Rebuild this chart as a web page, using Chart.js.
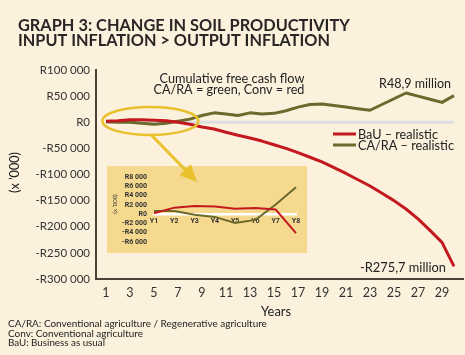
<!DOCTYPE html>
<html><head><meta charset="utf-8">
<script src="https://cdn.jsdelivr.net/npm/chart.js@4.4.1/dist/chart.umd.min.js"></script>
<style>
html,body{margin:0;padding:0;background:#fbf1dc;}
#wrap{position:relative;width:465px;height:355px;overflow:hidden;background:#fbf1dc;}
#main{position:absolute;left:0;top:0;}
#inset{position:absolute;left:107px;top:166px;background:#f5d98f;}
#over{position:absolute;left:0;top:0;pointer-events:none;}
</style></head><body>
<div id="wrap">
<canvas id="main" width="465" height="355"></canvas>
<canvas id="inset" width="200" height="87"></canvas>
<canvas id="over" width="465" height="355"></canvas>
</div>
<script>
// ---- data (R '000) ----
const years = [1,2,3,4,5,6,7,8,9,10,11,12,13,14,15,16,17,18,19,20,21,22,23,24,25,26,27,28,29,30];
const bauRealistic = [2000,3000,5000,5000,4000,3000,0,-4000,-9000,-13000,-19000,-25000,-30000,-36000,-43000,-50000,-58000,-67000,-76000,-87000,-98000,-110000,-122000,-136000,-150000,-166000,-185000,-207000,-230000,-275700];
const caraRealistic = [1000,0,0,-2000,-4000,-2000,2000,6000,13000,18000,16000,13000,18000,16000,17000,22000,29000,34000,35000,32000,29000,26000,23000,34000,45000,56000,50000,44000,38000,51000];
const zeroLine = [0,0,0,0,0,0,0,0,0,0,0,0,0,0,0,0,0,0,0,0,0,0,0,0,0,0,0,0,0,0];
const xTickLabels = [1,3,5,7,9,11,13,15,17,19,21,23,25,27,29];
const yTickValues = [100000,50000,0,-50000,-100000,-150000,-200000,-250000,-300000];

const insetYears = ['Y1','Y2','Y3','Y4','Y5','Y6','Y7','Y8'];
const insetBau = [200,1400,1750,1650,1150,1300,1000,-4100];
const insetCara = [650,650,-150,-600,-1900,-1250,2100,5800];
const insetYTicks = [8000,6000,4000,2000,0,-2000,-4000,-6000];

// ---- styles ----
const RED = '#c4181f', GREEN = '#6b692c', AXIS = '#4a4137', TXT = '#2b2626', GOLD = '#e8c12c';
const FAM = 'Lato, "Open Sans", sans-serif';

function fmtR(v){
  const a = Math.abs(v);
  const s = String(a).replace(/\B(?=(\d{3})+(?!\d))/g, ' ');
  return (v < 0 ? '-' : '') + 'R' + s;
}
function fitText(ctx, text, x, y, weight, size, targetW, align){
  ctx.font = weight + ' ' + size + 'px ' + FAM;
  const w = ctx.measureText(text).width;
  const s = size * targetW / w;
  ctx.font = weight + ' ' + s.toFixed(2) + 'px ' + FAM;
  ctx.textAlign = align;
  ctx.fillText(text, x, y);
}

const textPlugin = {
  id: 'texts',
  afterDraw(chart){
    const ctx = chart.ctx;
    ctx.save();
    ctx.fillStyle = TXT;
    ctx.textBaseline = 'alphabetic';
    // title
    fitText(ctx, 'GRAPH 3: CHANGE IN SOIL PRODUCTIVITY', 18, 31, 'bold', 17, 332, 'left');
    fitText(ctx, 'INPUT INFLATION > OUTPUT INFLATION', 18, 46, 'bold', 17, 312, 'left');
    // annotation
    ctx.fillStyle = '#222';
    fitText(ctx, 'Cumulative free cash flow', 232, 82.5, 'normal', 13, 145, 'center');
    fitText(ctx, 'CA/RA = green, Conv = red', 229, 93.5, 'normal', 13, 151, 'center');
    fitText(ctx, 'R48,9 million', 451, 88, 'normal', 13, 72, 'right');
    fitText(ctx, '-R275,7 million', 446, 271.5, 'normal', 13, 86, 'right');
    // legend
    ctx.lineWidth = 3;
    ctx.strokeStyle = RED;
    ctx.beginPath(); ctx.moveTo(333, 134); ctx.lineTo(356, 134); ctx.stroke();
    ctx.strokeStyle = GREEN;
    ctx.beginPath(); ctx.moveTo(333, 145); ctx.lineTo(356, 145); ctx.stroke();
    fitText(ctx, 'BaU \u2013 realistic', 358, 138.5, 'normal', 13, 80, 'left');
    fitText(ctx, 'CA/RA \u2013 realistic', 358, 150, 'normal', 13, 96, 'left');
    // axis titles
    fitText(ctx, 'Years', 276, 316, 'normal', 13, 30, 'center');
    ctx.save();
    ctx.translate(19, 172.5);
    ctx.rotate(-Math.PI / 2);
    fitText(ctx, '(x \u2019000)', 0, 0, 'normal', 12, 41, 'center');
    ctx.restore();
    // footnotes
    ctx.fillStyle = '#222';
    fitText(ctx, 'CA/RA: Conventional agriculture / Regenerative agriculture', 8, 327, 'normal', 10, 259, 'left');
    fitText(ctx, 'Conv: Conventional agriculture', 8, 336.5, 'normal', 10, 135, 'left');
    fitText(ctx, 'BaU: Business as usual', 8, 345.5, 'normal', 10, 97, 'left');
    ctx.restore();
  }
};

const mainChart = new Chart(document.getElementById('main'), {
  type: 'line',
  data: {
    datasets: [
      { label: 'BaU \u2013 realistic', data: years.map((y, i) => ({x: y, y: bauRealistic[i]})), borderColor: RED, borderWidth: 3, order: 0 },
      { label: 'CA/RA \u2013 realistic', data: years.map((y, i) => ({x: y, y: caraRealistic[i]})), borderColor: GREEN, borderWidth: 3, order: 1 },
      { label: 'zero', data: years.map((y, i) => ({x: y, y: zeroLine[i]})), borderColor: '#dcdfe4', borderWidth: 3, order: 2 }
    ]
  },
  options: {
    responsive: false, animation: false, devicePixelRatio: 1,
    layout: { padding: { left: 0, top: 70, right: 2, bottom: 36 } },
    plugins: { legend: { display: false }, tooltip: { enabled: false } },
    elements: { point: { radius: 0 }, line: { tension: 0, borderJoinStyle: 'round' } },
    scales: {
      x: {
        type: 'linear', min: 0.17, max: 30.75,
        afterBuildTicks: s => { s.ticks = xTickLabels.map(v => ({ value: v })); },
        afterFit: s => { s.height = 40; },
        grid: { display: false, drawTicks: false },
        border: { display: true, color: AXIS, width: 2 },
        ticks: { color: '#333', font: { family: FAM, size: 12.5 }, padding: 6, autoSkip: false, maxRotation: 0, callback: v => String(v) }
      },
      y: {
        type: 'linear', min: -300000, max: 100000,
        afterBuildTicks: s => { s.ticks = yTickValues.map(v => ({ value: v })); },
        afterFit: s => { s.width = 96; },
        grid: { display: false, drawTicks: false },
        border: { display: true, color: AXIS, width: 2 },
        ticks: { color: '#333', font: { family: FAM, size: 11.5 }, padding: 6, autoSkip: false, callback: v => fmtR(v) }
      }
    }
  },
  plugins: [textPlugin]
});

const insetText = {
  id: 'insetText',
  afterDraw(chart){
    const ctx = chart.ctx;
    ctx.save();
    ctx.fillStyle = '#333';
    ctx.translate(8, 38);
    ctx.rotate(-Math.PI / 2);
    ctx.font = '6px ' + FAM;
    ctx.textAlign = 'center';
    ctx.textBaseline = 'middle';
    ctx.fillText('(x \u2019000)', 0, 0);
    ctx.restore();
  }
};

const insetChart = new Chart(document.getElementById('inset'), {
  type: 'line',
  data: {
    labels: insetYears,
    datasets: [
      { data: insetBau, borderColor: RED, borderWidth: 2, order: 0 },
      { data: insetCara, borderColor: GREEN, borderWidth: 2, order: 1 }
    ]
  },
  options: {
    responsive: false, animation: false, devicePixelRatio: 1,
    layout: { padding: { left: 0, top: 7, right: 11, bottom: 6 } },
    plugins: { legend: { display: false }, tooltip: { enabled: false } },
    elements: { point: { radius: 0 }, line: { tension: 0 } },
    scales: {
      x: {
        type: 'category', offset: false, position: { y: 0 },
        afterFit: s => { s.height = 0; },
        grid: { display: false, drawTicks: false },
        border: { display: true, color: '#ffffff', width: 2.5 },
        ticks: { color: '#333', font: { family: 'Roboto', size: 7, weight: 'bold' }, padding: 3, autoSkip: false, maxRotation: 0 }
      },
      y: {
        type: 'linear', min: -6000, max: 8000,
        afterBuildTicks: s => { s.ticks = insetYTicks.map(v => ({ value: v })); },
        afterFit: s => { s.width = 47; },
        grid: { display: false, drawTicks: false },
        border: { display: false },
        ticks: { color: '#333', font: { family: 'Roboto', size: 7, weight: 'bold' }, padding: 7, autoSkip: false, callback: v => fmtR(v) }
      }
    }
  },
  plugins: [insetText]
});

// ---- overlay: highlight ellipse + arrow ----
(function(){
  const ctx = document.getElementById('over').getContext('2d');
  const xs = mainChart.scales.x, ys = mainChart.scales.y;
  const cx = xs.getPixelForValue(4.7), cy = ys.getPixelForValue(2500);
  ctx.strokeStyle = GOLD; ctx.fillStyle = GOLD;
  ctx.lineWidth = 2.5;
  ctx.beginPath(); ctx.ellipse(cx, cy, 48, 14, 0, 0, Math.PI * 2); ctx.stroke();
  const x0 = cx + 1, y0 = cy + 14, x1 = 197, y1 = 182;
  const ang = Math.atan2(y1 - y0, x1 - x0);
  const L = 17, W = 8;
  const bx = x1 - L * Math.cos(ang), by = y1 - L * Math.sin(ang);
  ctx.lineWidth = 3;
  ctx.beginPath(); ctx.moveTo(x0, y0); ctx.lineTo(bx, by); ctx.stroke();
  ctx.beginPath();
  ctx.moveTo(x1, y1);
  ctx.lineTo(bx + W * Math.sin(ang), by - W * Math.cos(ang));
  ctx.lineTo(bx - W * Math.sin(ang), by + W * Math.cos(ang));
  ctx.closePath(); ctx.fill();
})();
</script>
</body></html>
